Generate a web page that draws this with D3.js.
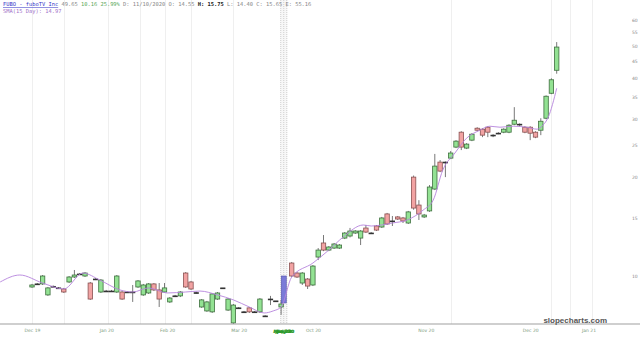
<!DOCTYPE html>
<meta charset="utf-8">
<style>
body { margin: 0; background: #fff; }
.axis text { font: 4.5px "DejaVu Sans", sans-serif; }
.axis path, .axis line { display: none; }
.hdr { font: 5.4px "DejaVu Sans Mono", monospace; }
</style>
<body>
<script src="https://d3js.org/d3.v7.min.js"></script>
<script>

// daily bars, one per index (48 is the data gap)
var barOpen  = [9.26,9.46,9.46,8.76,9.30,9.20,9.13,9.59,9.93,10.14,10.00,9.52,9.79,8.94,9.00,9.00,8.94,8.94,8.94,8.94,
                9.26,8.76,8.88,9.46,9.07,8.94,8.34,8.70,8.70,10.21,9.59,8.90,8.05,7.83,7.78,8.51,9.20,7.88,7.20,8.00,
                7.78,8.00,7.78,7.78,7.56,8.51,8.40,8.05,null,10.95,10.21,9.52,9.79,9.39,11.42,12.60,11.99,12.16,12.16,13.04,
                13.23,13.51,13.04,13.99,13.51,14.19,14.09,15.44,14.70,15.12,15.01,14.49,19.98,16.43,15.12,15.77,18.38,22.19,22.19,22.82,
                24.65,27.36,24.48,25.88,28.13,27.94,28.33,26.80,27.17,27.36,27.36,28.93,28.93,28.33,28.33,27.36,27.74,30.17,35.93,42.20];
var barHigh  = [9.46,9.52,10.07,9.26,9.36,9.26,9.20,10.00,10.43,10.21,10.28,9.59,9.86,9.79,9.07,9.07,10.07,9.00,9.00,9.39,
                9.72,9.46,9.52,9.52,9.52,9.52,8.63,8.76,9.00,10.28,9.66,8.96,8.51,8.40,8.88,8.94,9.20,8.57,8.22,8.05,
                7.83,8.05,7.83,8.57,7.60,8.70,8.40,8.46,null,11.03,10.28,10.28,9.86,10.80,12.16,13.32,12.33,12.60,12.51,13.60,
                14.00,13.79,13.79,14.29,13.60,14.29,15.12,15.55,15.22,15.22,15.12,15.77,20.20,17.00,15.44,18.90,23.50,22.51,22.30,23.99,
                25.88,27.55,25.35,27.17,28.33,28.13,28.53,26.98,27.36,28.13,28.93,32.60,29.10,28.53,28.53,27.55,30.17,35.40,39.90,51.40];
var barLow   = [9.20,9.39,9.39,8.70,9.25,9.13,8.88,9.52,9.86,10.07,9.93,8.46,9.72,8.88,8.94,8.94,8.88,8.46,8.88,8.34,
                9.20,8.70,8.82,9.00,8.05,8.88,8.28,8.63,8.63,9.20,9.07,8.84,8.00,7.78,7.72,8.46,9.20,7.83,7.15,7.95,
                7.72,7.72,7.72,7.72,7.52,8.16,8.40,7.62,null,9.93,9.86,9.39,9.13,9.32,11.18,11.90,11.90,12.08,12.08,12.95,
                13.10,13.42,12.42,13.51,13.42,13.70,13.99,14.29,14.19,14.80,14.49,14.39,15.90,14.80,15.01,15.66,18.25,20.69,19.98,22.66,
                24.48,24.14,24.31,25.70,27.55,26.43,26.43,26.43,26.98,27.17,27.17,28.73,28.50,27.17,25.88,26.24,26.80,29.96,35.70,41.20];
var barClose = [9.39,9.46,10.00,9.20,9.30,9.20,8.94,9.93,10.07,10.14,10.21,8.51,9.79,9.72,9.00,9.00,10.00,8.51,8.94,8.94,
                9.66,9.39,9.46,9.07,8.51,9.20,8.57,8.70,8.94,9.26,9.13,8.90,8.46,8.34,8.82,8.88,9.20,8.51,8.16,8.00,
                7.78,7.78,7.78,8.51,7.56,8.51,8.40,8.22,null,10.00,9.93,10.21,9.32,10.72,11.99,11.99,12.25,12.51,12.42,13.51,
                13.70,13.70,13.70,13.60,13.51,13.79,15.01,14.39,14.70,14.90,14.70,15.66,16.09,15.44,15.32,18.64,21.58,20.84,22.19,23.65,
                25.70,24.65,25.17,26.98,27.74,26.80,27.36,26.80,27.17,27.94,28.73,29.75,28.93,27.36,27.17,26.43,29.54,35.19,39.49,49.65];

// moving average line at these bar positions
var smaIdx  = [-6,-2.3,2,6,9.6,12.8,16.6,19,22,25.5,29,31.7,35,38,41,43.8,45.5,47,49,53,
               56,58.7,62.5,64,68,70.8,73.8,75.7,77.5,79.8,82,84.5,86.4,88.3,90.8,93.4,95.3,96.4,97.4,99];
var smaVals = [9.59,10.07,9.52,9.13,10.21,9.72,9.07,8.94,9.20,8.88,8.94,9.00,8.76,8.46,8.05,7.72,7.83,8.05,9.93,10.95,
               11.99,13.13,14.29,14.19,14.49,14.80,15.86,17.01,20.98,23.65,26.24,27.74,28.53,28.33,28.53,28.33,27.94,28.73,30.38,37.2];

// gap bar (OTC -> NYSE)
var gapIdx = 47.5, gapHigh = 10.0, gapLow = 8.28;

var xTickIdx    = [0, 14, 25.5, 39, 53, 74.3, 94, 105];
var xTickLabels = ["Dec 19", "Jan 20", "Feb 20", "Mar 20", "Oct 20", "Nov 20", "Dec 20", "Jan 21"];
var gapLabels   = ["Apr 20", "May 20", "Jun 20", "Jul 20", "Aug 20", "Sep 20"];
var yTicks      = [10, 15, 20, 25, 30, 35, 40, 45, 50, 55, 60];
var gridIdx     = [0, 6, 14.3, 20.4, 25, 30, 38, 79, 98, 101.5, 105.7];

var width = 640, height = 338, plotBottom = 324;

var x = d3.scaleLinear().domain([0, 99]).range([32, 556.7]);
var y = d3.scaleLog().domain([10, 60]).range([276, 20]);
var bw = 4.4;

var svg = d3.select("body").append("svg")
    .attr("width", width)
    .attr("height", height);

// faint vertical grid
svg.append("g").selectAll("line")
    .data(gridIdx)
  .enter().append("line")
    .attr("x1", function(d) { return Math.round(x(d)) + 0.5; })
    .attr("x2", function(d) { return Math.round(x(d)) + 0.5; })
    .attr("y1", 0).attr("y2", plotBottom)
    .style("stroke", "#efefef");

// dotted gap band
var gx = x(gapIdx);
svg.append("rect")
    .attr("x", gx - 3.5).attr("y", 0)
    .attr("width", 7).attr("height", plotBottom)
    .style("fill", "#f7f7f7");
[-3, 0, 3].forEach(function(o) {
  svg.append("line")
      .attr("x1", gx + o).attr("x2", gx + o)
      .attr("y1", 0).attr("y2", plotBottom)
      .style("stroke", "#cfcfcf")
      .style("stroke-dasharray", "1,1");
});

// header
var hdr = svg.append("text").attr("class", "hdr").attr("x", 3).attr("y", 6)
    .attr("xml:space", "preserve");
hdr.append("tspan").style("fill", "#3535c8").style("text-decoration", "underline").text("FUBO - fuboTV Inc");
hdr.append("tspan").style("fill", "#888").text(" 49.65");
hdr.append("tspan").style("fill", "#5aa85a").text(" 10.16 25.99%");
hdr.append("tspan").style("fill", "#888").text(" D: 11/10/2020 O: 14.55 ");
hdr.append("tspan").style("fill", "#222").style("font-weight", "bold").text("H: 15.75");
hdr.append("tspan").style("fill", "#888").text(" L: 14.40 C: 15.65 E: 55.16");

svg.append("text").attr("class", "hdr").attr("x", 3).attr("y", 13)
    .style("fill", "#a070c8")
    .text("SMA(15 Day): 14.97");

// candles
var bars = barOpen.map(function(o, i) {
  return {i: i, o: o, h: barHigh[i], l: barLow[i], c: barClose[i]};
}).filter(function(d) { return d.o != null; });

function fillOf(d) { return d.c > d.o ? "#93e293" : d.c < d.o ? "#f2a3a3" : "#444"; }
function strokeOf(d) { return d.c > d.o ? "#3f6f3f" : d.c < d.o ? "#8a5252" : "#333"; }

var candle = svg.append("g").selectAll("g")
    .data(bars)
  .enter().append("g");

candle.append("line")
    .attr("x1", function(d) { return x(d.i); })
    .attr("x2", function(d) { return x(d.i); })
    .attr("y1", function(d) { return y(d.h); })
    .attr("y2", function(d) { return y(d.l); })
    .style("stroke", "#555")
    .style("stroke-width", 0.8);

candle.append("rect")
    .attr("x", function(d) { return x(d.i) - bw / 2; })
    .attr("width", bw)
    .attr("y", function(d) { return y(Math.max(d.o, d.c)); })
    .attr("height", function(d) { return Math.max(0.8, y(Math.min(d.o, d.c)) - y(Math.max(d.o, d.c))); })
    .style("fill", fillOf)
    .style("stroke", strokeOf)
    .style("stroke-width", 0.8);

// gap bar
svg.append("rect")
    .attr("x", gx - 2.5).attr("width", 5)
    .attr("y", y(gapHigh))
    .attr("height", y(gapLow) - y(gapHigh))
    .style("fill", "#7a7ad8")
    .style("stroke", "#5252a8")
    .style("stroke-width", 0.6);

// moving average
var line = d3.line()
    .x(function(d, i) { return x(smaIdx[i]); })
    .y(function(d) { return y(d); })
    .curve(d3.curveMonotoneX);

svg.append("path")
    .datum(smaVals)
    .attr("d", line)
    .style("fill", "none")
    .style("stroke", "#b683dc")
    .style("stroke-width", 0.9);

// bottom axis
svg.append("line")
    .attr("x1", 0).attr("x2", width)
    .attr("y1", plotBottom).attr("y2", plotBottom)
    .style("stroke", "#a0a0a0")
    .style("stroke-width", 1.2);

var xAxis = d3.axisBottom(x)
    .tickValues(xTickIdx)
    .tickSize(0)
    .tickPadding(5)
    .tickFormat(function(d, i) { return xTickLabels[i]; });

svg.append("g")
    .attr("class", "x axis")
    .attr("transform", "translate(0," + plotBottom + ")")
    .call(xAxis)
    .selectAll("text").style("fill", "#7c9a7c");

// stacked month labels in the gap
svg.append("g").selectAll("text")
    .data(gapLabels)
  .enter().append("text")
    .attr("x", function(d, i) { return gx + (i - 2.5) * 0.8; })
    .attr("y", 333)
    .attr("text-anchor", "middle")
    .style("font", "bold 4.5px 'DejaVu Sans', sans-serif")
    .style("fill", "#2e9a2e")
    .text(function(d) { return d; });

var yAxis = d3.axisRight(y)
    .tickValues(yTicks)
    .tickSize(0)
    .tickPadding(0)
    .tickFormat(d3.format("d"));

svg.append("g")
    .attr("class", "y axis")
    .attr("transform", "translate(632,0)")
    .call(yAxis)
    .selectAll("text").style("fill", "#888");

// watermark
svg.append("text")
    .attr("x", 607).attr("y", 323)
    .attr("text-anchor", "end")
    .style("font", "bold 8px 'Liberation Sans', Arial, sans-serif")
    .style("fill", "#555")
    .text("slopecharts.com");

</script>
</body>
